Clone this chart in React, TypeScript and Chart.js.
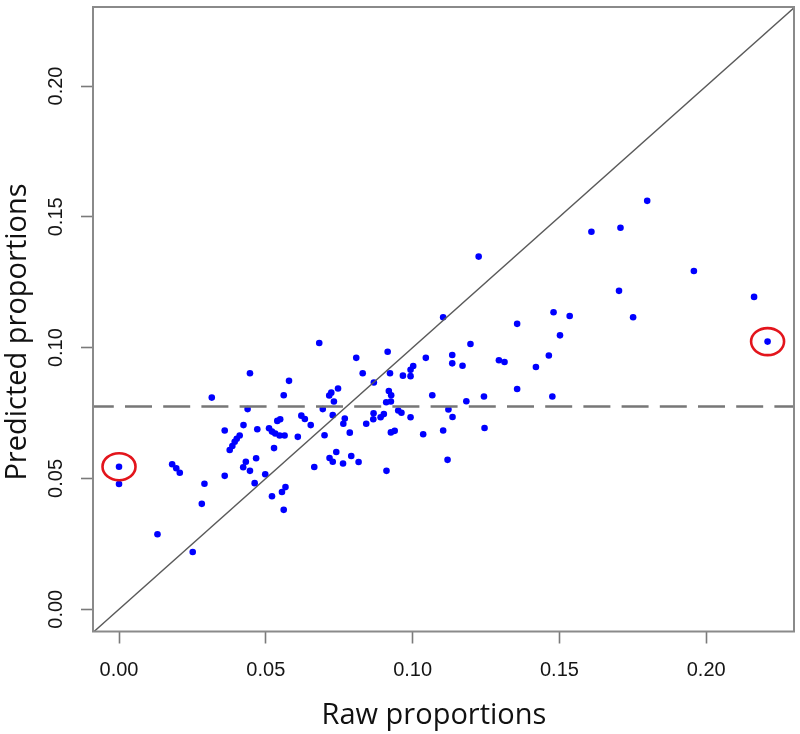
import { useEffect, useRef } from "react";
import { Chart, registerables } from "chart.js";

Chart.register(...registerables);

// Raw proportions (x) and predicted proportions (y)
const rawX = [
  0.0, 0.0, 0.0131, 0.0181, 0.0195, 0.0207, 0.0251, 0.0282, 0.0291, 0.0316,
  0.036, 0.036, 0.0424, 0.0446, 0.0438, 0.0411, 0.0401, 0.0394, 0.0386, 0.0377,
  0.0471, 0.0539, 0.0549, 0.0511, 0.0521, 0.0532, 0.0547, 0.0564, 0.0609, 0.0621,
  0.0633, 0.0653, 0.0528, 0.0467, 0.0432, 0.0423, 0.0446, 0.0498, 0.0462, 0.0665,
  0.0567, 0.0555, 0.0521, 0.0561, 0.0579, 0.0561,
  0.0682, 0.0915, 0.0808, 0.1045, 0.1135, 0.1135, 0.1002, 0.0993, 0.0967, 0.0993,
  0.0923, 0.083, 0.0868, 0.0746, 0.0723, 0.0716, 0.0919, 0.0927, 0.1067, 0.0732,
  0.091, 0.0926, 0.0694, 0.1122, 0.0951, 0.0962, 0.0867, 0.0902, 0.0891, 0.0866,
  0.0842, 0.0993, 0.1136, 0.0728, 0.0769, 0.0764, 0.07, 0.0786, 0.0926, 0.0939,
  0.1036, 0.1104, 0.074, 0.0717, 0.0728, 0.0763, 0.0791, 0.0816, 0.0911, 0.1119,
  0.1356, 0.1502, 0.1197, 0.117, 0.1294, 0.1313, 0.142, 0.1464, 0.1183, 0.1243,
  0.1356, 0.1476, 0.1245, 0.1799, 0.1609, 0.1708, 0.1225, 0.1958, 0.1703, 0.2163,
  0.1751, 0.148, 0.1535, 0.1104, 0.2209,
];
const predY = [
  0.0545, 0.0479, 0.0287, 0.0554, 0.0539, 0.0522, 0.0219, 0.0403, 0.048, 0.0809,
  0.0683, 0.051, 0.0704, 0.0902, 0.0765, 0.0664, 0.0652, 0.064, 0.0624, 0.0609,
  0.0688, 0.072, 0.0726, 0.0692, 0.0679, 0.0672, 0.0664, 0.0664, 0.0659, 0.074,
  0.0727, 0.0704, 0.0616, 0.0577, 0.0564, 0.0543, 0.0529, 0.0516, 0.0482, 0.0544,
  0.0467, 0.0448, 0.0432, 0.038, 0.0873, 0.0818,
  0.1018, 0.0984, 0.0961, 0.0961, 0.0972, 0.094, 0.093, 0.0915, 0.0893, 0.0891,
  0.0902, 0.0902, 0.0867, 0.0844, 0.0828, 0.0817, 0.0834, 0.0818, 0.0818, 0.0794,
  0.0791, 0.0794, 0.0765, 0.0764, 0.076, 0.0751, 0.0749, 0.0746, 0.0734, 0.0726,
  0.0709, 0.0734, 0.0735, 0.0742, 0.0729, 0.0709, 0.0665, 0.0675, 0.0676, 0.0682,
  0.0669, 0.0683, 0.0601, 0.0578, 0.0564, 0.0557, 0.0586, 0.0563, 0.0529, 0.0571,
  0.1091, 0.1047, 0.1014, 0.0931, 0.0952, 0.0945, 0.0926, 0.097, 0.0795, 0.0813,
  0.0842, 0.0813, 0.0693, 0.1561, 0.1443, 0.1458, 0.1348, 0.1293, 0.1217, 0.1194,
  0.1116, 0.1135, 0.1121, 0.1116, 0.1023,
];

// circled points (indices into the arrays above)
const highlighted = [0, rawX.length - 1];

const meanPred = 0.0775;
const identityX = [-0.02, 0.25];
const meanLineX = [-0.02, 0.25];

const tickValues = [0, 0.05, 0.1, 0.15, 0.2];
const tickLabels = ["0.00", "0.05", "0.10", "0.15", "0.20"];

const xTitle = "Raw proportions";
const yTitle = "Predicted proportions";

const xRange = [-0.00886, 0.2299];
const yRange = [-0.0085, 0.2302];

const decorPlugin = {
  id: "decor",
  afterDraw(chart: any) {
    const { ctx, chartArea: a, scales } = chart;
    const xs = scales.x;
    const ys = scales.y;
    ctx.save();
    // box
    ctx.strokeStyle = "#8a8a8a";
    ctx.lineWidth = 2;
    ctx.strokeRect(a.left, a.top, a.right - a.left, a.bottom - a.top);

    // tick labels
    ctx.fillStyle = "#151515";
    ctx.font = '20px "Liberation Sans", Arial, sans-serif';
    ctx.textAlign = "center";
    ctx.textBaseline = "middle";
    xs.ticks.forEach((t: any, i: number) => {
      ctx.fillText(tickLabels[i], xs.getPixelForValue(t.value), a.bottom + 39);
    });
    ys.ticks.forEach((t: any, i: number) => {
      ctx.save();
      ctx.translate(a.left - 37, ys.getPixelForValue(t.value));
      ctx.rotate(-Math.PI / 2);
      ctx.fillText(tickLabels[i], 0, 0);
      ctx.restore();
    });

    // axis titles
    ctx.fillStyle = "#111";
    ctx.font = '29px "Open Sans", sans-serif';
    ctx.fillText(xTitle, 434, a.bottom + 84);
    ctx.save();
    ctx.translate(18, 332);
    ctx.rotate(-Math.PI / 2);
    ctx.fillText(yTitle, 0, 0);
    ctx.restore();

    // red ellipses around highlighted points
    ctx.strokeStyle = "#e3151c";
    ctx.lineWidth = 2.6;
    highlighted.forEach((idx) => {
      const px = xs.getPixelForValue(rawX[idx]);
      const py = ys.getPixelForValue(predY[idx]);
      ctx.beginPath();
      ctx.ellipse(px, py, 16.5, 13.5, 0, 0, Math.PI * 2);
      ctx.stroke();
    });
    ctx.restore();
  },
};

export default function App() {
  const ref = useRef<HTMLCanvasElement | null>(null);

  useEffect(() => {
    if (!ref.current) return;
    const points = rawX.map((x, i) => ({ x, y: predY[i] }));
    const chart = new Chart(ref.current, {
      type: "scatter",
      data: {
        datasets: [
          {
            type: "line",
            data: identityX.map((v) => ({ x: v, y: v })),
            borderColor: "#5a5a5a",
            borderWidth: 1.4,
            pointRadius: 0,
            fill: false,
            order: 0,
          },
          {
            type: "line",
            data: meanLineX.map((v) => ({ x: v, y: meanPred })),
            borderColor: "#777777",
            borderWidth: 2.6,
            borderDash: [27, 11.2],
            borderDashOffset: 11.7,
            pointRadius: 0,
            fill: false,
            order: 0,
          },
          {
            data: points,
            backgroundColor: "#0000ff",
            borderColor: "#0000ff",
            borderWidth: 0,
            pointRadius: 3.3,
            order: 1,
          },
        ],
      },
      options: {
        animation: false,
        responsive: false,
        layout: { padding: { top: 7, right: 6, left: 0, bottom: 0 } },
        plugins: {
          legend: { display: false },
          tooltip: { enabled: false },
        },
        scales: {
          x: {
            type: "linear",
            min: xRange[0],
            max: xRange[1],
            afterBuildTicks: (s: any) => {
              s.ticks = tickValues.map((v) => ({ value: v }));
            },
            afterFit: (s: any) => {
              s.height = 102.5;
            },
            ticks: { display: false },
            border: { display: false },
            grid: {
              display: true,
              drawOnChartArea: false,
              drawTicks: true,
              tickLength: 12,
              tickColor: "#7a7a7a",
              tickWidth: 1.6,
              color: "#7a7a7a",
            },
          },
          y: {
            type: "linear",
            min: yRange[0],
            max: yRange[1],
            afterBuildTicks: (s: any) => {
              s.ticks = tickValues.map((v) => ({ value: v }));
            },
            afterFit: (s: any) => {
              s.width = 93;
            },
            ticks: { display: false },
            border: { display: false },
            grid: {
              display: true,
              drawOnChartArea: false,
              drawTicks: true,
              tickLength: 12,
              tickColor: "#7a7a7a",
              tickWidth: 1.6,
              color: "#7a7a7a",
            },
          },
        },
      },
      plugins: [decorPlugin],
    } as any);
    return () => chart.destroy();
  }, []);

  return (
    <div style={{ position: "absolute", left: 0, top: 0, width: 800, height: 734, background: "#fff" }}>
      <canvas ref={ref} width={800} height={734} style={{ display: "block" }} />
    </div>
  );
}
